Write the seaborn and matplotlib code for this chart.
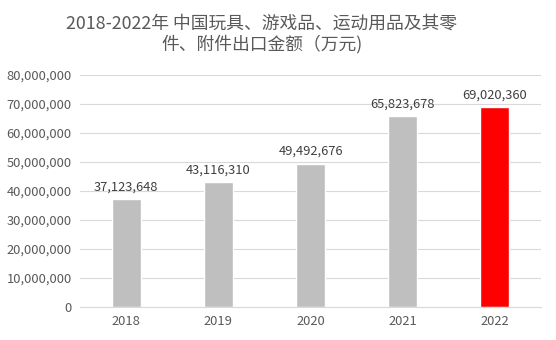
import matplotlib
matplotlib.use("Agg")
import matplotlib.pyplot as plt
import seaborn as sns
import pandas as pd
from matplotlib.ticker import FuncFormatter

years = ["2018", "2019", "2020", "2021", "2022"]
values = [37123648, 43116310, 49492676, 65823678, 69020360]
bar_colors = ["#bfbfbf", "#bfbfbf", "#bfbfbf", "#bfbfbf", "#ff0000"]
title = "2018-2022年 中国玩具、游戏品、运动用品及其零\n件、附件出口金额（万元)"

sns.set_theme(style="white")
plt.rcParams["font.family"] = ["Noto Sans CJK SC", "DejaVu Sans"]

df = pd.DataFrame({"year": years, "value": values})

fig = plt.figure(figsize=(5.56, 3.40), dpi=100)
ax = fig.add_axes([0.144, 0.097, 0.829, 0.682])

sns.barplot(data=df, x="year", y="value", hue="year", palette=bar_colors,
            legend=False, width=0.315, ax=ax, saturation=1)

ax.set_ylim(0, 80000000)
ax.set_yticks(range(0, 80000001, 10000000))
ax.yaxis.set_major_formatter(FuncFormatter(lambda v, p: f"{int(v):,}"))
ax.grid(axis="y", color="#d9d9d9", linewidth=0.8)
ax.set_axisbelow(True)
for s in ["top", "right", "left"]:
    ax.spines[s].set_visible(False)
ax.spines["bottom"].set_color("#d9d9d9")
ax.spines["bottom"].set_linewidth(0.8)
ax.tick_params(axis="both", length=0, labelsize=9.3, colors="#595959", pad=6)
ax.set_xlabel("")
ax.set_ylabel("")

for cont in ax.containers:
    ax.bar_label(cont, labels=[f"{int(round(v)):,}" for v in cont.datavalues],
                 padding=4, fontsize=9.3, color="#404040")

fig.text(0.471, 0.90, title, ha="center", va="center", fontsize=12.8,
         color="#595959", linespacing=1.15)

fig.savefig("out.png", dpi=100)
